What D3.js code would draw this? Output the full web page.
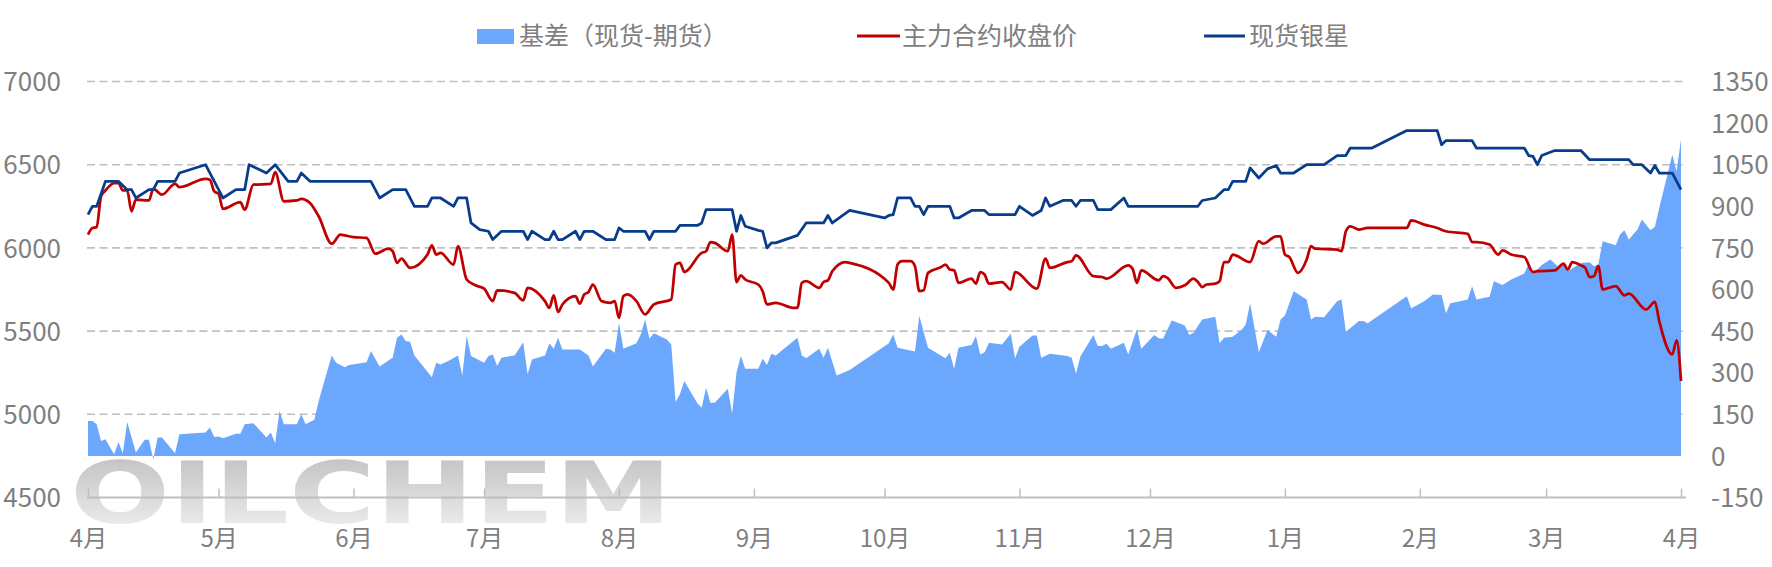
<!DOCTYPE html>
<html>
<head>
<meta charset="utf-8">
<script src="https://cdn.jsdelivr.net/npm/d3@7"></script>
<style>
  body { margin: 0; background: #fff; }
  svg text { font-family: "Noto Sans CJK SC", "Noto Sans", sans-serif; fill: #7f7f7f; }
</style>
</head>
<body>
<div id="chart"></div>
<script>
// series names (legend order)
const seriesNames = ["基差（现货-期货）", "主力合约收盘价", "现货银星"];
const leftTicks = [4500, 5000, 5500, 6000, 6500, 7000];
const rightTicks = [-150, 0, 150, 300, 450, 600, 750, 900, 1050, 1200, 1350];

// 基差 (right axis)
const basis = [
  ["2023-04-01",126],["2023-04-02",126],["2023-04-03",114],["2023-04-04",54],["2023-04-05",60],["2023-04-07",6],
  ["2023-04-08",50],["2023-04-09",10],["2023-04-10",122],["2023-04-12",12],["2023-04-14",58],["2023-04-15",58],
  ["2023-04-16",-12],["2023-04-17",66],["2023-04-18",66],["2023-04-21",10],["2023-04-22",78],["2023-04-28",84],
  ["2023-04-29",102],["2023-04-30",68],["2023-05-01",70],["2023-05-02",64],["2023-05-05",80],["2023-05-06",80],
  ["2023-05-07",114],["2023-05-09",118],["2023-05-12",66],["2023-05-13",84],["2023-05-14",46],["2023-05-15",162],
  ["2023-05-16",114],["2023-05-19",114],["2023-05-20",150],["2023-05-21",114],["2023-05-23",130],["2023-05-24",198],
  ["2023-05-27",362],["2023-05-28",336],["2023-05-30",320],["2023-05-31",328],["2023-06-04",338],["2023-06-05",378],
  ["2023-06-07",322],["2023-06-10",354],["2023-06-11",426],["2023-06-12",438],["2023-06-13",414],["2023-06-14",412],
  ["2023-06-15",362],["2023-06-19",284],["2023-06-20",336],["2023-06-21",330],["2023-06-23",344],["2023-06-25",362],
  ["2023-06-26",290],["2023-06-27",432],["2023-06-28",360],["2023-07-01",336],["2023-07-02",360],["2023-07-03",366],
  ["2023-07-04",324],["2023-07-05",354],["2023-07-08",362],["2023-07-10",410],["2023-07-11",294],["2023-07-12",348],
  ["2023-07-15",362],["2023-07-16",406],["2023-07-17",386],["2023-07-18",426],["2023-07-19",384],["2023-07-23",384],
  ["2023-07-25",362],["2023-07-26",322],["2023-07-29",386],["2023-07-30",384],["2023-07-31",372],["2023-08-01",480],
  ["2023-08-02",386],["2023-08-05",406],["2023-08-06",438],["2023-08-07",492],["2023-08-08",422],["2023-08-09",442],
  ["2023-08-12",420],["2023-08-13",402],["2023-08-14",194],["2023-08-15",222],["2023-08-16",270],["2023-08-19",190],
  ["2023-08-20",174],["2023-08-21",246],["2023-08-22",192],["2023-08-23",192],["2023-08-26",242],["2023-08-27",154],
  ["2023-08-28",300],["2023-08-29",360],["2023-08-30",314],["2023-09-02",314],["2023-09-03",350],["2023-09-04",328],
  ["2023-09-05",368],["2023-09-06",362],["2023-09-11",426],["2023-09-12",362],["2023-09-13",352],["2023-09-16",386],
  ["2023-09-17",354],["2023-09-18",390],["2023-09-20",290],["2023-09-23",310],["2023-10-02",406],["2023-10-03",438],
  ["2023-10-04",390],["2023-10-08",376],["2023-10-09",504],["2023-10-11",390],["2023-10-15",352],["2023-10-16",372],
  ["2023-10-17",314],["2023-10-18",390],["2023-10-21",400],["2023-10-22",432],["2023-10-23",366],["2023-10-24",374],
  ["2023-10-25",408],["2023-10-28",402],["2023-10-30",440],["2023-10-31",352],["2023-11-01",394],["2023-11-04",434],
  ["2023-11-05",434],["2023-11-06",354],["2023-11-08",368],["2023-11-12",360],["2023-11-13",354],["2023-11-14",296],
  ["2023-11-15",358],["2023-11-18",436],["2023-11-19",396],["2023-11-20",396],["2023-11-21",404],["2023-11-22",386],
  ["2023-11-25",408],["2023-11-26",366],["2023-11-28",458],["2023-11-29",386],["2023-12-02",436],["2023-12-03",424],
  ["2023-12-04",422],["2023-12-06",488],["2023-12-09",470],["2023-12-10",436],["2023-12-11",444],["2023-12-13",492],
  ["2023-12-16",502],["2023-12-17",406],["2023-12-18",426],["2023-12-20",430],["2023-12-22",454],["2023-12-23",474],
  ["2023-12-24",550],["2023-12-26",374],["2023-12-28",454],["2023-12-30",430],["2023-12-31",492],["2024-01-01",506],
  ["2024-01-03",594],["2024-01-06",564],["2024-01-07",492],["2024-01-08",502],["2024-01-10",500],["2024-01-13",558],
  ["2024-01-14",564],["2024-01-15",448],["2024-01-18",486],["2024-01-19",486],["2024-01-20",478],["2024-01-29",576],
  ["2024-01-30",532],["2024-02-02",558],["2024-02-04",582],["2024-02-06",580],["2024-02-07",514],["2024-02-08",550],
  ["2024-02-12",564],["2024-02-13",612],["2024-02-14",564],["2024-02-17",574],["2024-02-18",630],["2024-02-20",616],
  ["2024-02-22",636],["2024-02-25",658],["2024-02-26",694],["2024-02-27",658],["2024-02-29",688],["2024-03-02",708],
  ["2024-03-04",678],["2024-03-05",696],["2024-03-06",666],["2024-03-09",696],["2024-03-11",698],["2024-03-12",684],
  ["2024-03-13",690],["2024-03-14",774],["2024-03-17",760],["2024-03-18",798],["2024-03-19",814],["2024-03-20",780],
  ["2024-03-22",816],["2024-03-23",852],["2024-03-25",814],["2024-03-26",826],["2024-03-27",894],["2024-03-30",1086],
  ["2024-03-31",1026],["2024-04-01",1142]
];

// 主力合约收盘价 (left axis)
const futures = [
  ["2023-04-01",6080],["2023-04-02",6120],["2023-04-03",6125],["2023-04-04",6310],["2023-04-05",6345],["2023-04-07",6390],
  ["2023-04-08",6390],["2023-04-09",6345],["2023-04-10",6345],["2023-04-11",6220],["2023-04-12",6290],["2023-04-15",6285],
  ["2023-04-16",6355],["2023-04-18",6320],["2023-04-21",6385],["2023-04-22",6365],["2023-04-28",6415],["2023-04-29",6410],
  ["2023-04-30",6340],["2023-05-01",6325],["2023-05-02",6235],["2023-05-06",6275],["2023-05-07",6230],["2023-05-09",6380],
  ["2023-05-13",6385],["2023-05-14",6455],["2023-05-16",6280],["2023-05-19",6285],["2023-05-20",6295],["2023-05-22",6270],
  ["2023-05-24",6190],["2023-05-27",6025],["2023-05-29",6080],["2023-05-30",6075],["2023-06-01",6065],["2023-06-04",6060],
  ["2023-06-06",5965],["2023-06-09",5995],["2023-06-10",5980],["2023-06-11",5910],["2023-06-12",5935],["2023-06-14",5880],
  ["2023-06-18",5960],["2023-06-19",6015],["2023-06-20",5960],["2023-06-21",5970],["2023-06-24",5900],["2023-06-25",6010],
  ["2023-06-27",5810],["2023-06-29",5775],["2023-07-01",5755],["2023-07-03",5680],["2023-07-04",5745],["2023-07-08",5730],
  ["2023-07-10",5685],["2023-07-11",5760],["2023-07-15",5680],["2023-07-16",5640],["2023-07-17",5715],["2023-07-18",5615],
  ["2023-07-19",5660],["2023-07-22",5710],["2023-07-23",5665],["2023-07-24",5720],["2023-07-25",5735],["2023-07-26",5780],
  ["2023-07-28",5680],["2023-07-30",5670],["2023-07-31",5680],["2023-08-01",5580],["2023-08-02",5710],["2023-08-03",5720],
  ["2023-08-05",5680],["2023-08-07",5600],["2023-08-09",5660],["2023-08-13",5690],["2023-08-14",5900],["2023-08-15",5910],
  ["2023-08-16",5855],["2023-08-20",5970],["2023-08-21",5980],["2023-08-22",6035],["2023-08-23",6030],["2023-08-26",5980],
  ["2023-08-27",6080],["2023-08-28",5795],["2023-08-29",5835],["2023-08-30",5810],["2023-09-02",5780],["2023-09-03",5740],
  ["2023-09-04",5660],["2023-09-06",5670],["2023-09-10",5640],["2023-09-11",5640],["2023-09-12",5790],["2023-09-13",5800],
  ["2023-09-16",5760],["2023-09-17",5795],["2023-09-18",5805],["2023-09-19",5860],["2023-09-22",5915],["2023-09-23",5910],
  ["2023-10-02",5790],["2023-10-03",5750],["2023-10-04",5900],["2023-10-05",5920],["2023-10-07",5920],["2023-10-08",5890],
  ["2023-10-09",5740],["2023-10-10",5745],["2023-10-11",5850],["2023-10-14",5885],["2023-10-15",5900],["2023-10-16",5870],
  ["2023-10-17",5865],["2023-10-18",5790],["2023-10-21",5815],["2023-10-22",5785],["2023-10-23",5855],["2023-10-24",5840],
  ["2023-10-25",5785],["2023-10-28",5795],["2023-10-30",5750],["2023-10-31",5855],["2023-11-05",5755],["2023-11-07",5935],
  ["2023-11-08",5880],["2023-11-12",5915],["2023-11-13",5920],["2023-11-14",5955],["2023-11-18",5830],["2023-11-20",5825],
  ["2023-11-21",5815],["2023-11-26",5895],["2023-11-27",5875],["2023-11-28",5790],["2023-11-29",5865],["2023-12-03",5805],
  ["2023-12-04",5830],["2023-12-05",5820],["2023-12-07",5760],["2023-12-09",5775],["2023-12-11",5815],["2023-12-12",5795],
  ["2023-12-13",5765],["2023-12-14",5780],["2023-12-16",5785],["2023-12-17",5800],["2023-12-18",5915],["2023-12-19",5915],
  ["2023-12-20",5960],["2023-12-24",5915],["2023-12-26",6040],["2023-12-27",6025],["2023-12-30",6070],["2023-12-31",6070],
  ["2024-01-01",5960],["2024-01-02",5945],["2024-01-04",5850],["2024-01-06",5930],["2024-01-07",6010],["2024-01-08",5995],
  ["2024-01-13",5990],["2024-01-14",5980],["2024-01-15",6100],["2024-01-16",6130],["2024-01-18",6110],["2024-01-20",6120],
  ["2024-01-29",6120],["2024-01-30",6165],["2024-02-02",6140],["2024-02-05",6120],["2024-02-07",6100],["2024-02-12",6085],
  ["2024-02-13",6035],["2024-02-14",6035],["2024-02-17",6020],["2024-02-19",5960],["2024-02-20",5985],["2024-02-22",5960],
  ["2024-02-25",5945],["2024-02-27",5855],["2024-02-28",5860],["2024-03-03",5865],["2024-03-05",5905],["2024-03-06",5870],
  ["2024-03-07",5915],["2024-03-09",5895],["2024-03-10",5880],["2024-03-11",5825],["2024-03-12",5830],["2024-03-13",5890],
  ["2024-03-14",5750],["2024-03-17",5770],["2024-03-19",5715],["2024-03-20",5725],["2024-03-24",5630],["2024-03-26",5675],
  ["2024-03-27",5560],["2024-03-30",5360],["2024-03-31",5445],["2024-04-01",5200]
];

// 现货银星 (left axis)
const spot = [
  ["2023-04-01",6200],["2023-04-02",6250],["2023-04-03",6250],["2023-04-05",6400],["2023-04-08",6400],["2023-04-10",6350],
  ["2023-04-11",6350],["2023-04-12",6300],["2023-04-15",6350],["2023-04-16",6350],["2023-04-17",6400],["2023-04-21",6400],
  ["2023-04-22",6450],["2023-04-28",6500],["2023-05-02",6300],["2023-05-05",6350],["2023-05-07",6350],["2023-05-08",6500],
  ["2023-05-12",6450],["2023-05-14",6500],["2023-05-17",6400],["2023-05-19",6400],["2023-05-20",6450],["2023-05-22",6400],
  ["2023-06-05",6400],["2023-06-07",6300],["2023-06-10",6350],["2023-06-13",6350],["2023-06-15",6250],["2023-06-18",6250],
  ["2023-06-19",6300],["2023-06-21",6300],["2023-06-24",6250],["2023-06-25",6300],["2023-06-27",6300],["2023-06-28",6150],
  ["2023-06-30",6110],["2023-07-02",6100],["2023-07-03",6050],["2023-07-05",6100],["2023-07-10",6100],["2023-07-11",6050],
  ["2023-07-12",6100],["2023-07-15",6050],["2023-07-16",6050],["2023-07-17",6100],["2023-07-18",6050],["2023-07-19",6050],
  ["2023-07-22",6100],["2023-07-23",6050],["2023-07-24",6100],["2023-07-26",6100],["2023-07-29",6050],["2023-07-31",6050],
  ["2023-08-01",6120],["2023-08-02",6100],["2023-08-07",6100],["2023-08-08",6050],["2023-08-09",6100],["2023-08-14",6100],
  ["2023-08-15",6135],["2023-08-19",6135],["2023-08-20",6150],["2023-08-21",6230],["2023-08-27",6230],["2023-08-28",6100],
  ["2023-08-29",6195],["2023-08-30",6130],["2023-09-02",6105],["2023-09-03",6100],["2023-09-04",6000],["2023-09-05",6030],
  ["2023-09-06",6030],["2023-09-11",6075],["2023-09-13",6150],["2023-09-17",6150],["2023-09-18",6195],["2023-09-19",6150],
  ["2023-09-23",6225],["2023-10-01",6180],["2023-10-02",6195],["2023-10-03",6200],["2023-10-04",6300],["2023-10-07",6300],
  ["2023-10-08",6250],["2023-10-09",6250],["2023-10-10",6200],["2023-10-11",6250],["2023-10-16",6250],["2023-10-17",6180],
  ["2023-10-18",6180],["2023-10-21",6225],["2023-10-24",6225],["2023-10-25",6200],["2023-10-31",6200],["2023-11-01",6250],
  ["2023-11-04",6195],["2023-11-06",6225],["2023-11-07",6300],["2023-11-08",6250],["2023-11-11",6285],["2023-11-13",6285],
  ["2023-11-14",6250],["2023-11-15",6285],["2023-11-18",6285],["2023-11-19",6230],["2023-11-22",6230],["2023-11-25",6300],
  ["2023-11-26",6250],["2023-12-12",6250],["2023-12-13",6285],["2023-12-16",6300],["2023-12-18",6350],["2023-12-19",6350],
  ["2023-12-20",6400],["2023-12-23",6400],["2023-12-24",6480],["2023-12-26",6420],["2023-12-28",6475],["2023-12-30",6495],
  ["2023-12-31",6450],["2024-01-03",6450],["2024-01-06",6500],["2024-01-10",6500],["2024-01-13",6555],["2024-01-15",6555],
  ["2024-01-16",6600],["2024-01-21",6600],["2024-01-29",6705],["2024-02-05",6705],["2024-02-06",6620],["2024-02-07",6645],
  ["2024-02-13",6645],["2024-02-14",6600],["2024-02-25",6600],["2024-02-26",6555],["2024-02-27",6550],["2024-02-28",6500],
  ["2024-02-29",6555],["2024-03-03",6585],["2024-03-09",6585],["2024-03-11",6530],["2024-03-20",6530],["2024-03-21",6500],
  ["2024-03-23",6500],["2024-03-25",6450],["2024-03-26",6495],["2024-03-27",6450],["2024-03-30",6450],["2024-04-01",6350]
];

const width = 1772
const height = 567
const parse = d3.timeParse("%Y-%m-%d")
const startDate = parse("2023-04-01"), endDate = parse("2024-04-01")

const svg = d3.select("#chart")
  .append("svg")
  .attr("width", width)
  .attr("height", height)

const x = d3.scaleTime().domain([startDate, endDate]).range([88, 1681])
const yL = d3.scaleLinear().domain([4500, 7000]).range([497.5, 81.5])
const yR = d3.scaleLinear().domain([-150, 1350]).range([497.5, 81.5])

// gradient for the watermark
const defs = svg.append("defs")
const grad = defs.append("linearGradient")
  .attr("id", "wm").attr("x1", 0).attr("y1", 0).attr("x2", 0).attr("y2", 1)
grad.append("stop").attr("offset", "0%").attr("stop-color", "#bcbcbc")
grad.append("stop").attr("offset", "100%").attr("stop-color", "#f4f4f4")

// gridlines (left axis)
svg.append("g")
  .selectAll("line")
  .data(leftTicks.slice(1))
  .enter()
  .append("line")
  .attr("x1", 87).attr("x2", 1686)
  .attr("y1", d => yL(d)).attr("y2", d => yL(d))
  .attr("stroke", "#c0c0c0")
  .attr("stroke-width", 1.6)
  .attr("stroke-dasharray", "8,4.5")

// watermark
svg.append("text")
  .attr("x", 70).attr("y", 523)
  .attr("textLength", 602)
  .attr("lengthAdjust", "spacingAndGlyphs")
  .style("font-family", "'DejaVu Sans', sans-serif")
  .style("font-weight", "bold")
  .style("font-size", "86px")
  .style("fill", "url(#wm)")
  .text("OILCHEM")

// area: basis
const area = d3.area()
  .x(d => x(parse(d[0])))
  .y0(yR(0))
  .y1(d => yR(d[1]))
svg.append("path")
  .datum(basis)
  .attr("fill", "#6ba7fc")
  .attr("d", area)

// x axis
const monthTicks = d3.timeMonth.range(startDate, d3.timeDay.offset(endDate, 1))
const xAxis = svg.append("g")
  .attr("transform", "translate(0,497.5)")
  .call(d3.axisBottom(x).tickValues(monthTicks).tickFormat(d => (d.getMonth() + 1) + "月").tickSize(-9))
xAxis.select(".domain").remove()
xAxis.selectAll(".tick line").attr("stroke", "#bfbfbf").attr("stroke-width", 1.5)
xAxis.selectAll(".tick text")
  .attr("y", 41).attr("dy", "0.35em")
  .style("font-size", "24px")
  .style("font-family", "'Noto Sans CJK SC', sans-serif")
  .attr("fill", "#7f7f7f")
svg.append("line")
  .attr("x1", 87).attr("x2", 1686)
  .attr("y1", 497.5).attr("y2", 497.5)
  .attr("stroke", "#bfbfbf")
  .attr("stroke-width", 2.2)

// left / right value labels
const plain = d => String(d)
const leftAxis = svg.append("g")
  .attr("transform", "translate(61,0)")
  .call(d3.axisLeft(yL).tickValues(leftTicks).tickFormat(plain).tickSize(0).tickPadding(0))
leftAxis.select(".domain").remove()
const rightAxis = svg.append("g")
  .attr("transform", "translate(1711,0)")
  .call(d3.axisRight(yR).tickValues(rightTicks).tickFormat(plain).tickSize(0).tickPadding(0))
rightAxis.select(".domain").remove()
svg.selectAll(".tick text").attr("fill", "#7f7f7f")
leftAxis.selectAll("text").attr("dy", "0.35em").style("font-size", "26px")
  .style("font-family", "'Noto Sans CJK SC', sans-serif")
rightAxis.selectAll("text").attr("dy", "0.35em").style("font-size", "26px")
  .style("font-family", "'Noto Sans CJK SC', sans-serif")

// lines
const lineL = d3.line()
  .x(d => x(parse(d[0])))
  .y(d => yL(d[1]))

svg.append("path")
  .datum(futures)
  .attr("fill", "none")
  .attr("stroke", "#c00000")
  .attr("stroke-width", 2.75)
  .attr("stroke-linejoin", "round")
  .attr("d", lineL.curve(d3.curveMonotoneX))

svg.append("path")
  .datum(spot)
  .attr("fill", "none")
  .attr("stroke", "#083d8c")
  .attr("stroke-width", 2.75)
  .attr("stroke-linejoin", "round")
  .attr("d", d3.line().x(d => x(parse(d[0]))).y(d => yL(d[1])))

// legend
const legend = svg.append("g").style("font-size", "25px")
legend.append("rect")
  .attr("x", 477).attr("y", 29).attr("width", 37).attr("height", 15)
  .attr("fill", "#6ba7fc")
legend.append("text").attr("x", 519).attr("y", 36).attr("dy", "0.35em").text(seriesNames[0])
legend.append("line")
  .attr("x1", 857).attr("x2", 900).attr("y1", 36).attr("y2", 36)
  .attr("stroke", "#c00000").attr("stroke-width", 3)
legend.append("text").attr("x", 902).attr("y", 36).attr("dy", "0.35em").text(seriesNames[1])
legend.append("line")
  .attr("x1", 1204).attr("x2", 1245).attr("y1", 36).attr("y2", 36)
  .attr("stroke", "#083d8c").attr("stroke-width", 3)
legend.append("text").attr("x", 1249).attr("y", 36).attr("dy", "0.35em").text(seriesNames[2])
</script>
</body>
</html>
